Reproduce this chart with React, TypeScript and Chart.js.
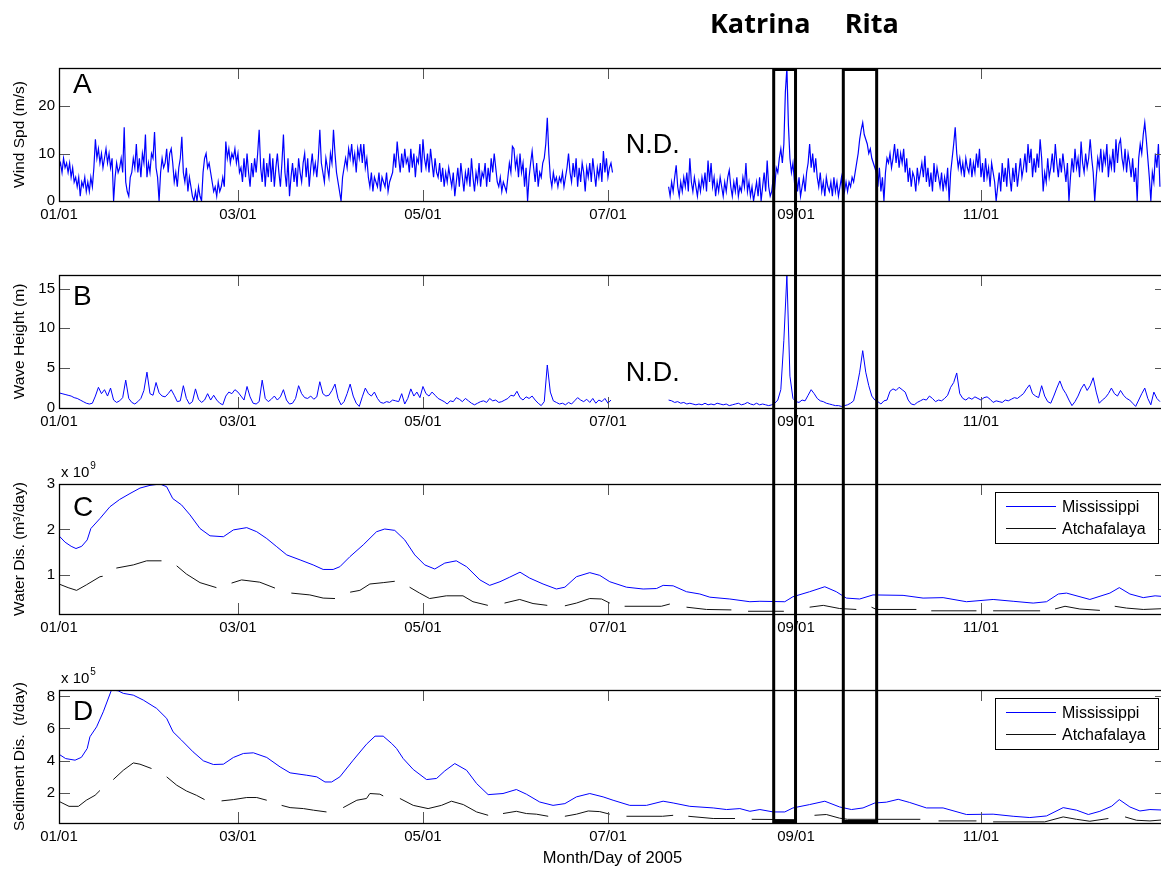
import React, { useEffect, useRef } from 'react';
import { Chart, registerables } from 'chart.js';
Chart.register(...registerables);

const FONT = "'Liberation Sans', Arial, Helvetica, sans-serif";
Chart.defaults.font.family = FONT;
Chart.defaults.color = '#000';

// ---------- x axis ----------
const tickDays = [0, 59, 120, 181, 243, 304];
const tickLabels = ['01/01', '03/01', '05/01', '07/01', '09/01', '11/01'];
const xMax = 365;
const katrinaSpan = [235.65, 242.85];
const ritaSpan = [258.6, 269.6];
const stormNames = ['Katrina', 'Rita'];
const stormLabelDays = [231.2, 268.0];

// ---------- A: wind speed (m/s), 12-hourly ----------
const windStart1 = 0;
const windStart2 = 201;
const windStep = 0.5;
const windPart1 = [
  7,8,6,9,7,8,6,8,5,7, 4,5,3,5,1,4,3,5,2,4, 2,5,3,7,13,9,11,8,10,7, 9,11,8,10,7,9,0,5,8,6,
  7,9,6,15.5,4,2,1,5,6,9, 7,12,6,9,5,10,8,14,5,8, 6,10,9,14.5,7,5,0,6,9,7, 8,11,6,10,11,8,4,6,3,7,
  9,13.5,6,4,7,2,5,3,1,0, 2,0,3,1,0,6,9,10,7,8, 6,4,2,3,1,4,2,3,5,3, 12.5,9,11,8,10,9,11,8,10,6,
  7,4,9,5,10,6,3,8,5,9, 6,10,15,7,4,9,3,8,5,10, 4,9,3,7,10,6,3,8,14,6, 3,9,1,5,8,4,7,3,9,6,
  4,8,10,5,9,3,7,10,6,8, 5,9,15,8,6,4,9,7,5,10, 8,15,10,6,4,2,0,5,7,9, 7,11,9,12,8,10,6,11,9,12,
  8,12,7,9,5,3,6,2,5,4, 3,6,2,5,4,3,6,2,4,5, 6,10,7,12.5,9,6,10,7,11,8, 9,6,11,7,10,5,9,8,12,6,
  13,9,7,10,6,11,8,5,9,6, 5,8,4,7,3,6,4,7,5,3, 6,1,4,7,3,8,5,2,6,4, 7,3,9,5,2,6,4,8,3,6,
  5,8,3,7,4,9,6,10,7,4, 3,5,2,4,3,2,5,8,6,11.5, 11,7,9,5,10,6,8,3,7,0, 5,8,10.5,7,4,8,3,6,5,8,
  9,12,17.5,10,5,3,6,4,5,3, 5,4,6,3,5,7,10,6,4,8, 5,9,3,7,4,8,6,2,7,5, 8,4,9,6,3,7,5,8,4,10.5,
  6,9,5,7,8,6,
];
const windPart2 = [
  3,1,4,2,5,7.5,3,1,
  4,2,5,3,6,2,9,4,2,5, 3,1,4,2,5,3,6,2,8.5,4, 8,3,5,1,4,2,5,3,1,4, 2,5,6.5,3,1,4,2,5,1,3,
  2,5,3,8,2,4,1,3,0,2, 4,1,5,0,3,6,2,8.5,3,1, 2,5,3,7,6,9,11,8,12,23, 28,16,9,6,8,4,6,2,5,1,
  3,5,2,6,8,12,7,10,6,9, 5,3,6,2,4,1,5,3,2,4, 1,5,2,4,1,3,5,1,2,4, 2,4,3,5,4,6,8,10,13,15,
  16.5,14,13,12,10,11,9,8,7,6, 3,7,2,5,0,6,9,8,10,7, 9,12,8,11,7,10,8,11,6,9, 4,7,3,6,5,2,7,4,6,8,
  5,9.5,4,7,3,6,2,8,4,7, 5,3,6,2,5,3,7,0,6,9, 12,15.5,10,7,9,6,8,5,9,7, 6,9,5,8,6,10,7,11,5,8,
  4,9,5,7,3,8,6,4,0,3, 6,2,8,4,7,3,9,5,2,7, 4,8,3,6,9,5,7,10,6,12, 8,11,5,9,6,10,7,13,9,2,
  6,4,9,5,7,10,6,12,8,5, 9,6,10,7,4,8,0,5,9,6, 11,7,9,5,12.5,8,6,10,7,9, 13,9,6,0,5,9,7,11,6,10,
  8,12,5,9,7,11,6,13,8,12, 13,9,7,11,6,10,8,5,9,4, 7,0,9,12,10,14,16.5,13,9,5,
  0,6,4,10,7,12,3,
];

// ---------- B: wave height (m), daily ----------
const waveStart1 = 0;
const waveStart2 = 201;
const waveStep = 1;
const wavePart1 = [
  1.9,1.8,1.7,1.6,1.5,1.3,1.2,1.0,0.8,0.6, 0.5,0.6,1.5,2.6,1.8,2.3,1.5,2.5,1.0,0.7,
  0.9,1.3,3.5,1.2,0.7,0.5,0.8,1.2,2.2,4.5, 1.8,1.6,3.2,1.9,1.5,1.4,1.8,2.3,1.6,0.8,
  0.9,2.8,1.2,0.5,0.8,2.4,1.1,0.7,1.0,1.8, 1.0,1.6,1.0,0.6,0.4,1.5,2.0,1.8,2.3,2.0,
  1.5,1.0,2.7,1.4,0.6,0.5,0.8,3.5,1.2,0.8, 1.1,1.5,1.0,1.4,2.3,1.0,0.5,0.6,1.2,2.8,
  1.8,1.3,1.2,1.5,1.1,1.4,3.3,1.8,1.5,1.6, 2.2,3.0,1.2,0.4,0.8,1.8,3.0,1.5,0.6,0.2,
  1.4,2.5,1.8,1.5,2.0,1.2,0.7,0.6,0.8,0.7, 1.0,0.9,0.8,1.8,0.5,1.2,2.4,1.5,2.0,1.3,
  2.7,1.8,1.5,2.0,1.6,1.2,1.0,0.8,0.5,0.9, 0.8,1.3,1.1,0.8,1.2,0.9,0.6,0.4,0.6,0.8,
  0.9,0.7,1.2,0.9,1.0,0.7,0.8,1.0,1.2,1.6, 1.5,2.1,1.3,1.0,1.4,1.2,1.5,1.0,0.6,0.3,
  0.8,5.4,2.0,0.9,0.7,0.5,0.6,0.4,0.7,0.5, 0.9,1.3,1.0,0.8,1.1,0.7,1.2,0.6,1.0,0.8,
  1.2,0.6,1.0,
];
const wavePart2 = [
  1.0,0.9,0.7,0.8,0.6,0.7,0.5,0.6,0.5,0.4, 0.5,0.4,0.6,0.4,0.5,0.4,0.6,0.5,0.4,0.5,
  0.3,0.4,0.5,0.6,0.4,0.5,0.7,0.5,0.4,0.6, 0.4,0.5,0.4,0.3,0.4,0.6,1.0,2.3,8.5,16.7,
  4.0,1.2,0.8,0.7,1.0,0.9,1.6,2.3,1.8,1.2, 0.9,0.8,0.6,0.5,0.4,0.3,0.3,0.2,0.3,0.4,
  0.6,0.9,2.5,4.5,7.2,4.5,2.8,1.5,1.0,0.8, 0.5,0.9,1.0,2.1,2.4,2.2,2.6,2.3,2.0,1.0,
  0.5,0.4,0.7,0.9,1.1,1.0,1.5,1.2,0.8,1.0, 0.9,1.2,1.6,2.6,3.2,4.4,1.8,1.2,1.0,1.3,
  1.1,1.4,1.2,1.0,1.3,1.4,1.1,0.7,0.9,0.8, 0.7,1.0,0.9,1.1,1.3,1.2,1.5,1.8,2.4,2.9,
  1.8,1.5,1.3,2.8,1.5,0.8,0.6,1.5,2.5,3.4, 2.4,1.8,1.0,0.3,0.8,1.5,2.4,3.0,2.2,2.8,
  3.8,2.0,0.6,1.0,1.3,1.8,2.5,1.8,1.5,2.2, 1.6,1.2,1.0,0.6,0.2,1.0,1.8,2.5,1.2,0.4,
  2.0,1.2,0.8,
];

// ---------- C: water discharge (x 10^9 m3/day) ----------
const missWaterDays = [0,2,4,5.6,7.5,9.3,10.5,13.5,16.8,20,23.4,26.7,30,33.3,35.5,37.5,40.4,43.2,46.5,49.8,54.2,57.5,61.9,65.2,68.5,71.8,75.1,79.5,83.8,87.1,90.4,92.6,95.9,100.3,104.7,107.4,110.7,114,117.3,120.6,123.9,127.2,131,134.4,138.8,142,145.4,148.6,152,155.2,159.6,164,166.8,170.6,175,178.3,181.6,187.1,192.6,197,199.2,202.5,206.9,211.3,214.6,221.2,227.8,231.1,239.3,242,247.5,252.5,256.3,259.6,264,268.4,278.3,284.9,291.5,299.2,308,314.6,321.2,325.6,329.5,332.2,339.9,346.5,349.6,353.1,357.5,361.4,365];
const missWaterVals = [1.86,1.72,1.63,1.58,1.63,1.77,2.02,2.24,2.50,2.66,2.79,2.91,2.97,3.0,2.94,2.68,2.54,2.32,2.02,1.86,1.84,1.99,2.04,1.95,1.80,1.62,1.44,1.33,1.22,1.12,1.12,1.18,1.40,1.66,1.95,2.01,1.98,1.77,1.44,1.22,1.13,1.26,1.31,1.18,0.89,0.77,0.85,0.95,1.06,0.93,0.80,0.69,0.73,0.96,1.05,0.99,0.85,0.73,0.69,0.70,0.77,0.76,0.63,0.58,0.51,0.47,0.41,0.42,0.41,0.52,0.63,0.74,0.63,0.49,0.47,0.56,0.55,0.49,0.50,0.41,0.46,0.42,0.38,0.41,0.58,0.60,0.46,0.60,0.72,0.58,0.50,0.54,0.52];
const atchWaterDays = [0,3,5.8,9,13.5,14.4,16,18.9,24.5,28.9,33.8,36,38.8,42,46.5,51.9,54,56.9,60.2,66.2,71.2,74,76.6,82.7,87.1,91,93,96,99.2,102.5,106.9,110.7,113,115.6,118.9,122.2,127.7,133.2,136.5,141.4,144,146.9,151.9,156.3,161,164,166.8,170.6,175,178.9,181.6,184,186.5,198.6,201.4,204,206.9,213.5,221.7,224,227.2,239,244,247.5,252,257.4,262.9,265,267.9,269.5,282.7,285,287.6,302.5,305,308,323.5,326,328.4,331.7,336.6,343.2,346,348.1,352,357.5,365];
const atchWaterVals = [0.80,0.72,0.66,0.78,0.96,0.97,null,1.15,1.22,1.31,1.31,null,1.20,1.02,0.83,0.72,null,0.82,0.89,0.84,0.71,null,0.60,0.56,0.49,0.48,null,0.62,0.66,0.80,0.83,0.86,null,0.73,0.60,0.48,0.54,0.54,0.41,0.33,null,0.38,0.46,0.37,0.33,null,0.32,0.38,0.48,0.47,0.38,null,0.31,0.31,0.36,null,0.29,0.24,0.23,null,0.20,0.20,null,0.29,0.33,0.26,0.24,null,0.29,0.24,0.24,null,0.21,0.21,null,0.21,0.21,null,0.25,0.31,0.25,0.22,null,0.31,0.27,0.24,0.26];

// ---------- D: sediment discharge (x 10^5 t/day) ----------
const missSedDays = [0,2.2,5.3,7.4,9.3,10.2,12.4,14.6,17.3,19.5,21.2,24.5,27.8,32.2,35.5,37.6,40.4,44.2,47.6,50.9,54.2,57.5,60.8,64.1,68.5,72.9,76.2,81.7,85,87.7,89.9,92.6,97,101.4,104.2,106.9,109.7,111.3,113.5,116.8,121.2,124.5,127.2,130.5,134.4,137.7,141.5,146.4,150.8,154.1,158.5,162.9,166.8,170.6,175,179.4,182.7,188.2,193.7,199.2,202.5,208,215.7,220.1,224.5,227.8,231.1,235.5,239.3,242,247.5,252.5,257.4,261.3,265.1,269,272.8,276.7,280.5,286,291.5,299.2,308,314.6,320.1,325.6,331.1,335.5,339.4,343.2,347.1,349.6,353.1,356.4,359.7,365];
const missSedVals = [4.39,4.12,4.02,4.2,4.75,5.48,6.1,7.04,8.4,8.35,8.19,8.08,7.77,7.25,6.63,5.79,5.27,4.54,3.98,3.75,3.77,4.19,4.44,4.48,4.19,3.6,3.23,3.08,2.98,2.66,2.66,2.98,4.02,5.02,5.52,5.52,5.06,4.75,4.12,3.44,2.81,2.88,3.35,3.81,3.39,2.56,1.87,1.94,2.19,1.9,1.41,1.2,1.31,1.73,1.94,1.73,1.52,1.2,1.2,1.46,1.35,1.14,1.04,0.94,1.0,0.83,0.94,0.79,0.79,1.04,1.25,1.46,1.1,0.94,1.04,1.35,1.4,1.58,1.38,1.04,1.04,0.63,0.65,0.52,0.44,0.54,1.06,0.9,0.63,0.83,1.15,1.56,1.1,0.85,0.94,0.9];
const atchSedDays = [0,3.3,6.4,9,11.9,13.5,15.5,17.9,21.2,24.5,26.7,30.5,33,35.5,38.8,42,45.3,48,51,53.6,57.5,61.9,65.2,68.5,71,73.4,76.2,80.6,83.9,88.2,91,93.7,98.2,101.4,102.5,105.8,106.9,109,112.4,116.8,121.7,126.1,129.4,133.3,137.7,141.5,144,146.4,150.8,154.1,157.4,161.3,164,166.8,170.6,174.5,178.3,181.6,184,187.1,199,202.5,205,207.5,215.7,222.9,225,228.4,243,246,249.1,253,257.4,260,269.6,284,287,290,302.5,305,308,325,331.1,335.5,339.9,346,349,351.5,355.3,359.7,365];
const atchSedVals = [1.45,1.14,1.14,1.52,1.83,2.13,null,2.81,3.39,3.85,3.77,3.5,null,2.98,2.46,2.1,1.83,1.56,null,1.48,1.56,1.69,1.69,1.52,null,1.2,1.06,1.0,0.9,0.79,null,1.06,1.52,1.63,1.94,1.9,1.79,null,1.63,1.2,1.0,1.2,1.46,1.25,0.79,0.58,null,0.69,0.83,0.69,0.65,0.52,null,0.52,0.65,0.85,0.81,0.65,null,0.52,0.52,0.58,null,0.52,0.38,0.38,null,0.33,0.31,null,0.58,0.63,0.4,0.33,0.33,0.33,null,0.23,0.23,null,0.17,0.17,0.48,0.33,0.21,0.38,null,0.48,0.27,0.23,0.31];

// ---------- helpers ----------
const seq = (start: number, step: number, vals: number[]) => vals.map((v, i) => ({ x: start + i * step, y: v }));
const pairs = (days: number[], vals: (number | null)[]) => days.map((d, i) => ({ x: d, y: vals[i] }));

const BLUE = '#0000ff';
const BLACK = '#111111';
const CANVAS_W = 1170;

type Panel = {
  top: number; height: number; padTop: number; axisH: number;
  yMin: number; yMax: number; yTicks: number[]; yTitle: string;
  letter: string; letterDy: number; nd?: number; legend?: boolean; exponent?: string;
  xTitle?: boolean; boxTop?: boolean; boxBottom?: boolean; stormTitles?: boolean;
  datasets: any[];
};

const panels: Panel[] = [
  {
    top: 0, height: 250, padTop: 68, axisH: 49, yMin: 0, yMax: 28, yTicks: [0, 10, 20],
    yTitle: 'Wind Spd (m/s)', letter: 'A', letterDy: 25, nd: 85, boxTop: true, stormTitles: true,
    datasets: [{
      label: 'Wind', data: [...seq(windStart1, windStep, windPart1), { x: 190, y: null }, ...seq(windStart2, windStep, windPart2)],
      borderColor: BLUE, borderWidth: 1.2,
    }],
  },
  {
    top: 250, height: 200, padTop: 25, axisH: 42, yMin: 0, yMax: 16.7, yTicks: [0, 5, 10, 15],
    yTitle: 'Wave Height (m)', letter: 'B', letterDy: 30, nd: 106,
    datasets: [{
      label: 'Wave', data: [...seq(waveStart1, waveStep, wavePart1), { x: 190, y: null }, ...seq(waveStart2, waveStep, wavePart2)],
      borderColor: BLUE, borderWidth: 1,
    }],
  },
  {
    top: 450, height: 210, padTop: 34, axisH: 46, yMin: 0.14, yMax: 3.0, yTicks: [1, 2, 3],
    yTitle: 'Water Dis. (m\u00B3/day)', letter: 'C', letterDy: 32, legend: true, exponent: '9',
    datasets: [
      { label: 'Mississippi', data: pairs(missWaterDays, missWaterVals), borderColor: BLUE, borderWidth: 1 },
      { label: 'Atchafalaya', data: pairs(atchWaterDays, atchWaterVals), borderColor: BLACK, borderWidth: 1 },
    ],
  },
  {
    top: 660, height: 209, padTop: 30, axisH: 46, yMin: 0.1, yMax: 8.4, yTicks: [2, 4, 6, 8],
    yTitle: 'Sediment Dis.  (t/day)', letter: 'D', letterDy: 30, legend: true, exponent: '5',
    xTitle: true, boxBottom: true,
    datasets: [
      { label: 'Mississippi', data: pairs(missSedDays, missSedVals), borderColor: BLUE, borderWidth: 1 },
      { label: 'Atchafalaya', data: pairs(atchSedDays, atchSedVals), borderColor: BLACK, borderWidth: 1 },
    ],
  },
];

function overlayPlugin(p: Panel) {
  return {
    id: 'overlay',
    afterDraw(chart: any) {
      const { ctx, chartArea: ca, scales } = chart;
      const xs = scales.x, ys = scales.y;
      ctx.save();
      // inward ticks
      ctx.strokeStyle = '#555';
      ctx.lineWidth = 1;
      ctx.beginPath();
      for (const d of tickDays) {
        const x = Math.round(xs.getPixelForValue(d)) + 0.5;
        ctx.moveTo(x, ca.bottom); ctx.lineTo(x, ca.bottom - 11);
        ctx.moveTo(x, ca.top); ctx.lineTo(x, ca.top + 11);
      }
      for (const v of p.yTicks) {
        const y = Math.round(ys.getPixelForValue(v)) + 0.5;
        ctx.moveTo(ca.left, y); ctx.lineTo(ca.left + 11, y);
        ctx.moveTo(ca.right, y); ctx.lineTo(ca.right - 11, y);
      }
      ctx.stroke();
      // frame
      ctx.strokeStyle = '#000';
      ctx.lineWidth = 1.3;
      ctx.strokeRect(Math.round(ca.left) + 0.5, Math.round(ca.top) + 0.5, Math.round(ca.right - ca.left), Math.round(ca.bottom - ca.top));
      // panel letter
      ctx.fillStyle = '#000';
      ctx.textBaseline = 'alphabetic';
      ctx.textAlign = 'left';
      ctx.font = `28px ${FONT}`;
      ctx.fillText(p.letter, ca.left + 14, ca.top + p.letterDy);
      // N.D.
      if (p.nd !== undefined) {
        ctx.font = `27px ${FONT}`;
        ctx.fillText('N.D.', xs.getPixelForValue(186.9), ca.top + p.nd);
      }
      // exponent
      if (p.exponent) {
        ctx.font = `15px ${FONT}`;
        const base = 'x 10';
        ctx.fillText(base, ca.left + 2, ca.top - 7);
        const w = ctx.measureText(base).width;
        ctx.font = `10px ${FONT}`;
        ctx.fillText(p.exponent, ca.left + 2 + w + 1, ca.top - 15);
      }
      // legend
      if (p.legend) {
        const bx = ca.right - 170.5, by = ca.top + 8.5, bw = 163, bh = 51;
        ctx.fillStyle = '#fff';
        ctx.fillRect(bx, by, bw, bh);
        ctx.strokeStyle = '#000';
        ctx.lineWidth = 1;
        ctx.strokeRect(bx, by, bw, bh);
        const rows = [ca.top + 22, ca.top + 44];
        chart.data.datasets.forEach((ds: any, i: number) => {
          const y = Math.round(rows[i]) + 0.5;
          ctx.strokeStyle = ds.borderColor;
          ctx.lineWidth = 1;
          ctx.beginPath();
          ctx.moveTo(ca.right - 160, y); ctx.lineTo(ca.right - 110, y);
          ctx.stroke();
          ctx.fillStyle = '#000';
          ctx.font = `16px ${FONT}`;
          ctx.textBaseline = 'middle';
          ctx.fillText(ds.label, ca.right - 104, y + 1);
        });
        ctx.textBaseline = 'alphabetic';
      }
      // storm titles
      if (p.stormTitles) {
        ctx.fillStyle = '#000';
        ctx.font = `bold 27px 'Open Sans', ${FONT}`;
        ctx.textAlign = 'center';
        stormNames.forEach((n, i) => ctx.fillText(n, xs.getPixelForValue(stormLabelDays[i]), 33));
        ctx.textAlign = 'left';
      }
      // storm boxes
      ctx.strokeStyle = '#000';
      ctx.lineWidth = 3;
      ctx.lineCap = 'square';
      for (const span of [katrinaSpan, ritaSpan]) {
        const xa = xs.getPixelForValue(span[0]);
        const xb = xs.getPixelForValue(span[1]);
        const y0 = p.boxTop ? ca.top + 1.5 : -2;
        const y1 = p.boxBottom ? ca.bottom - 1.5 : chart.height + 2;
        ctx.beginPath();
        ctx.moveTo(xa, y0); ctx.lineTo(xa, y1);
        ctx.moveTo(xb, y0); ctx.lineTo(xb, y1);
        if (p.boxTop) { ctx.moveTo(xa, y0); ctx.lineTo(xb, y0); }
        if (p.boxBottom) { ctx.moveTo(xa, y1); ctx.lineTo(xb, y1); }
        ctx.stroke();
      }
      ctx.restore();
    },
  };
}

function PanelChart({ p }: { p: Panel }) {
  const ref = useRef<HTMLCanvasElement>(null);
  useEffect(() => {
    const chart = new Chart(ref.current as HTMLCanvasElement, {
      type: 'line',
      data: {
        datasets: p.datasets.map((d) => ({ ...d, pointRadius: 0, tension: 0, spanGaps: false, fill: false })),
      },
      options: {
        animation: false,
        responsive: false,
        devicePixelRatio: 1,
        layout: { padding: { top: p.padTop, bottom: 0, left: 0, right: CANVAS_W - 1166 } },
        plugins: { legend: { display: false }, tooltip: { enabled: false } },
        scales: {
          x: {
            type: 'linear', min: 0, max: xMax,
            grid: { display: false, drawTicks: false },
            border: { display: false },
            afterBuildTicks: (s: any) => { s.ticks = tickDays.map((v) => ({ value: v })); },
            afterFit: (s: any) => { s.height = p.axisH; },
            ticks: {
              autoSkip: false, maxRotation: 0, padding: 5, color: '#000',
              font: { size: 15, family: FONT },
              callback: (v: any) => tickLabels[tickDays.indexOf(Number(v))],
            },
            title: {
              display: !!p.xTitle, text: 'Month/Day of 2005', color: '#000',
              font: { size: 16.5, family: FONT }, padding: { top: 0, bottom: 1 },
            },
          },
          y: {
            type: 'linear', min: p.yMin, max: p.yMax,
            grid: { display: false, drawTicks: false },
            border: { display: false },
            afterBuildTicks: (s: any) => { s.ticks = p.yTicks.map((v) => ({ value: v })); },
            afterFit: (s: any) => { s.width = 59; },
            ticks: { padding: 4, color: '#000', font: { size: 15, family: FONT }, callback: (v: any) => String(v) },
            title: {
              display: true, text: p.yTitle, color: '#000',
              font: { size: 15.5, family: FONT }, padding: { top: 10, bottom: 0 },
            },
          },
        },
      },
      plugins: [overlayPlugin(p)],
    } as any);
    return () => chart.destroy();
  }, []);
  return (
    <canvas
      ref={ref}
      width={CANVAS_W}
      height={p.height}
      style={{ position: 'absolute', left: 0, top: p.top, width: CANVAS_W, height: p.height, display: 'block' }}
    />
  );
}

export default function App() {
  return (
    <div style={{ position: 'absolute', left: 0, top: 0, width: 1161, height: 869, overflow: 'hidden', background: '#fff' }}>
      {panels.map((p, i) => <PanelChart key={i} p={p} />)}
    </div>
  );
}
